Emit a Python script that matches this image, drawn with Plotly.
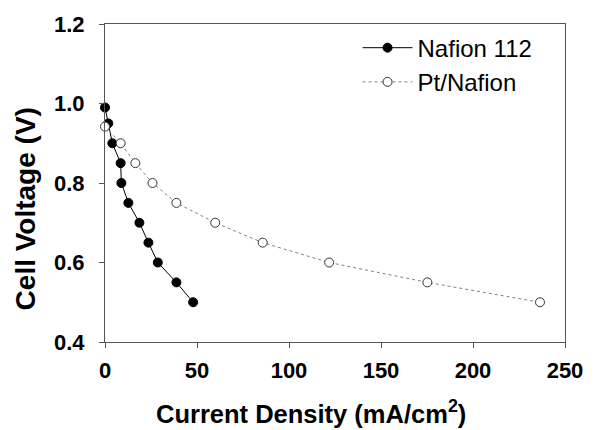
import plotly.graph_objects as go

# Nafion 112
nafion_x = [0, 1.8, 4, 8.5, 8.9, 12.7, 18.7, 23.6, 28.7, 38.8, 47.9]
nafion_y = [0.99, 0.95, 0.90, 0.85, 0.80, 0.75, 0.70, 0.65, 0.60, 0.55, 0.50]

# Pt/Nafion
pt_x = [0, 8.5, 16.5, 25.8, 38.8, 59.9, 85.7, 121.8, 175.2, 236.4]
pt_y = [0.942, 0.90, 0.85, 0.80, 0.75, 0.70, 0.65, 0.60, 0.55, 0.50]

x_ticks = [0, 50, 100, 150, 200, 250]
y_ticks = [0.4, 0.6, 0.8, 1.0, 1.2]

FONT = "Liberation Sans, Arial, sans-serif"

fig = go.Figure()
fig.add_trace(go.Scatter(
    x=nafion_x, y=nafion_y, name="Nafion 112", mode="lines+markers",
    line=dict(color="black", width=1),
    marker=dict(symbol="circle", size=9, color="black", line=dict(color="black", width=1)),
    cliponaxis=False,
))
fig.add_trace(go.Scatter(
    x=pt_x, y=pt_y, name="Pt/Nafion", mode="lines+markers",
    line=dict(color="#808080", width=1, dash="dot"),
    marker=dict(symbol="circle", size=9, color="white", line=dict(color="#333333", width=1)),
    cliponaxis=False,
))

axis_common = dict(
    showgrid=False, zeroline=False, showline=True, linecolor="#555555", linewidth=1,
    mirror=True, ticks="outside", ticklen=5, tickcolor="#555555", tickwidth=1,
    tickfont=dict(family=FONT, size=22, color="black", weight="bold"),
)
fig.update_xaxes(range=[0, 250], tickvals=x_ticks, ticklabelstandoff=4, **axis_common)
fig.update_yaxes(range=[0.4, 1.2], tickvals=y_ticks, tickformat=".1f", ticklabelstandoff=10, **axis_common)

fig.update_layout(
    width=600, height=430,
    margin=dict(l=105, r=35, t=19, b=88),
    paper_bgcolor="white", plot_bgcolor="white",
    showlegend=True,
    legend=dict(x=0.549, y=0.995, xanchor="left", yanchor="top",
                font=dict(family=FONT, size=24, color="black"),
                bgcolor="rgba(0,0,0,0)", itemwidth=50, tracegroupgap=4),
    annotations=[
        dict(text="Current Density (mA/cm<sup>2</sup>)", xref="paper", yref="paper",
             x=0.448, y=-0.22, xanchor="center", yanchor="middle", showarrow=False,
             font=dict(family=FONT, size=25.5, color="black", weight="bold")),
        dict(text="Cell Voltage (V)", xref="paper", yref="paper", textangle=-90,
             x=-0.174, y=0.42, xanchor="center", yanchor="middle", showarrow=False,
             font=dict(family=FONT, size=28, color="black", weight="bold")),
    ],
)

fig.write_html("out.html", config={"displayModeBar": False},
               post_script="document.body.style.margin='0';document.body.style.padding='0';document.body.style.overflow='hidden';")
